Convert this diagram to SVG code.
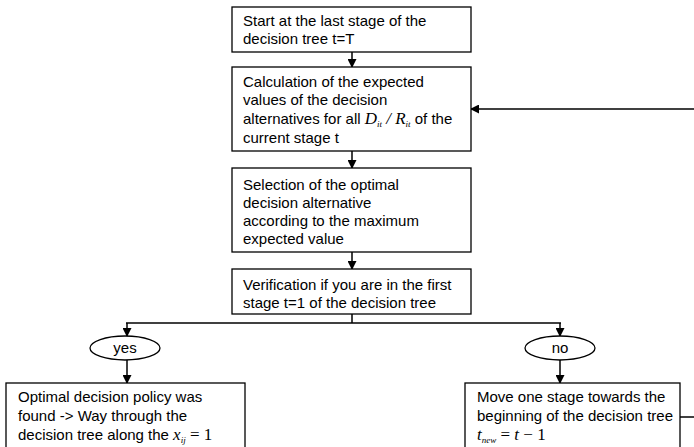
<svg xmlns="http://www.w3.org/2000/svg" width="694" height="447" viewBox="0 0 694 447">
  <style>
    .box { fill: #fff; stroke: #000; stroke-width: 1.3; }
    .oval { fill: #fff; stroke: #000; stroke-width: 1.3; }
    .lbl { font-family: "Liberation Sans", Arial, sans-serif; font-size: 15px; fill: #000; }
    .math { font-family: "Liberation Serif", "Times New Roman", serif; font-style: italic; }
    .num { font-family: "Liberation Serif", "Times New Roman", serif; font-style: normal; }
    .sub { font-size: 9px; }
    .conn { fill: none; stroke: #000; stroke-width: 1.5; }
  </style>
  <defs>
    <marker id="arrow" markerWidth="9" markerHeight="9" refX="8" refY="4.5" orient="auto" markerUnits="userSpaceOnUse">
      <path d="M0,0 L9,4.5 L0,9 Z" fill="#000"/>
    </marker>
  </defs>

  <rect width="694" height="447" fill="#fff"/>

  <!-- connectors -->
  <g id="connectors">
    <line class="conn" x1="352" y1="52" x2="352" y2="67" marker-end="url(#arrow)"/>
    <line class="conn" x1="352" y1="151" x2="352" y2="168" marker-end="url(#arrow)"/>
    <line class="conn" x1="352" y1="252" x2="352" y2="269" marker-end="url(#arrow)"/>
    <polyline class="conn" points="352,314 352,323"/>
    <line class="conn" x1="126" y1="323" x2="561" y2="323"/>
    <line class="conn" x1="127" y1="323" x2="127" y2="336" marker-end="url(#arrow)"/>
    <line class="conn" x1="560" y1="323" x2="560" y2="336" marker-end="url(#arrow)"/>
    <line class="conn" x1="127" y1="360" x2="127" y2="383" marker-end="url(#arrow)"/>
    <line class="conn" x1="560" y1="360" x2="560" y2="383" marker-end="url(#arrow)"/>
    <line class="conn" x1="680" y1="417" x2="694" y2="417"/>
    <line class="conn" x1="694" y1="109" x2="471" y2="109" marker-end="url(#arrow)"/>
  </g>

  <!-- start node -->
  <g id="start">
    <rect class="box" x="232" y="7" width="239" height="45"/>
    <text class="lbl" x="243" y="26">Start at the last stage of the</text>
    <text class="lbl" x="243" y="44">decision tree t=T</text>
  </g>

  <!-- expected value calculation -->
  <g id="calc">
    <rect class="box" x="232" y="67" width="239" height="84"/>
    <text class="lbl" x="243" y="87">Calculation of the expected</text>
    <text class="lbl" x="243" y="105">values of the decision</text>
    <text class="lbl" x="243" y="124">alternatives for all <tspan class="math" font-size="17">D</tspan><tspan class="math sub" dy="3">it</tspan><tspan dy="-3"> </tspan><tspan class="math" font-size="17">/ R</tspan><tspan class="math sub" dy="3">it</tspan><tspan dy="-3"> of the</tspan></text>
    <text class="lbl" x="243" y="143">current stage t</text>
  </g>

  <!-- selection of optimum -->
  <g id="select">
    <rect class="box" x="232" y="168" width="239" height="84"/>
    <text class="lbl" x="243" y="190">Selection of the optimal</text>
    <text class="lbl" x="243" y="208">decision alternative</text>
    <text class="lbl" x="243" y="226">according to the maximum</text>
    <text class="lbl" x="243" y="244">expected value</text>
  </g>

  <!-- first stage check -->
  <g id="verify">
    <rect class="box" x="232" y="269" width="239" height="45"/>
    <text class="lbl" x="243" y="290">Verification if you are in the first</text>
    <text class="lbl" x="243" y="308">stage t=1 of the decision tree</text>
  </g>

  <g id="yes">
    <ellipse class="oval" cx="125" cy="348" rx="35" ry="12"/>
    <text class="lbl" x="125" y="353" text-anchor="middle">yes</text>
  </g>

  <g id="no">
    <ellipse class="oval" cx="560" cy="348" rx="35" ry="12"/>
    <text class="lbl" x="560" y="353" text-anchor="middle">no</text>
  </g>

  <g id="found">
    <rect class="box" x="6" y="383" width="239" height="80"/>
    <text class="lbl" x="18" y="402">Optimal decision policy was</text>
    <text class="lbl" x="18" y="421">found -&gt; Way through the</text>
    <text class="lbl" x="18" y="440">decision tree along the <tspan class="math" font-size="17">x</tspan><tspan class="math sub" dy="3">ij</tspan><tspan class="num" font-size="17" dy="-3"> = 1</tspan></text>
  </g>

  <g id="move">
    <rect class="box" x="465" y="383" width="215" height="80"/>
    <text class="lbl" x="477" y="402">Move one stage towards the</text>
    <text class="lbl" x="477" y="421">beginning of the decision tree</text>
    <text class="lbl" x="477" y="440"><tspan class="math" font-size="17">t</tspan><tspan class="math sub" dy="3">new</tspan><tspan class="num" font-size="17" dy="-3"> = </tspan><tspan class="math" font-size="17">t</tspan><tspan class="num" font-size="17"> − 1</tspan></text>
  </g>
</svg>
